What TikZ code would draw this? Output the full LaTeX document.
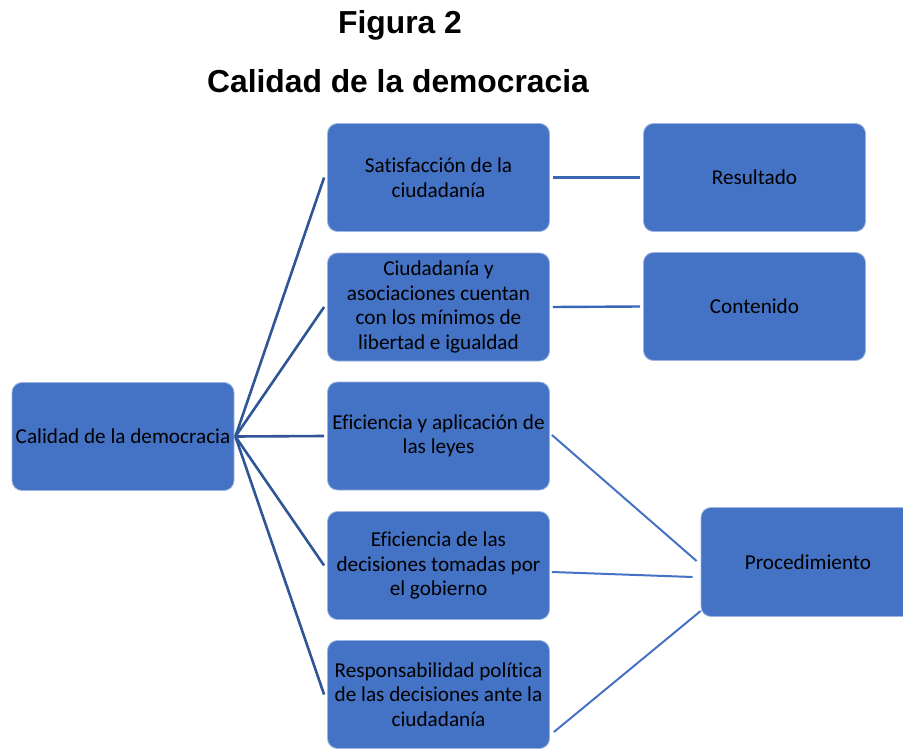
\documentclass[tikz,border=0pt]{standalone}
\usepackage{fontspec}
\setmainfont{Carlito}[Ligatures=NoCommon]
\newfontfamily\titlefont{Liberation Sans}
\usetikzlibrary{calc}
\definecolor{boxblue}{HTML}{4472C4}
\definecolor{boxedge}{HTML}{9DB3E0}
\definecolor{fanblue}{HTML}{2F5597}
\definecolor{midblue}{HTML}{3A66B6}
\begin{document}
\begin{tikzpicture}[x=1pt,y=-1pt,
  box/.style={rectangle, rounded corners=10pt, fill=boxblue, draw=boxedge, line width=0.8pt,
    minimum width=222pt, minimum height=108pt, inner sep=0pt, align=center,
    font=\fontsize{21.2}{24.5}\selectfont, text=black},
  ttl/.style={font=\titlefont\bfseries\fontsize{31.8}{36}\selectfont, text=black, inner sep=0pt},
  fan/.style={draw=fanblue, line width=2.6pt},
  side/.style={draw=midblue, line width=2.4pt},
  proc/.style={draw=boxblue, line width=2pt}]
\useasboundingbox (0,0) rectangle (903,749);
\begin{scope}
\clip (0,0) rectangle (903,749);
\node[ttl] (t1) at (400,25) {Figura 2};
\node[ttl] (t2) at (398,81.5) {Calidad de la democracia};

\node[box] (L) at (123,436.5) {Calidad de la democracia};
\node[box] (m1) at (438.5,177.5) {Satisfacción de la\\ciudadanía};
\node[box] (m2) at (438.5,307) {Ciudadanía y\\asociaciones cuentan\\con los mínimos de\\libertad e igualdad};
\node[box] (m3) at (438.5,436) {Eficiencia y aplicación de\\las leyes};
\node[box] (m4) at (438.5,565.5) {Eficiencia de las\\decisiones tomadas por\\el gobierno};
\node[box] (m5) at (438.5,694.5) {Responsabilidad política\\de las decisiones ante la\\ciudadanía};
\node[box] (r1) at (754.5,177.5) {Resultado};
\node[box] (r2) at (754.5,306.5) {Contenido};
\node[box, minimum width=214pt, minimum height=109pt] (P) at (808,562) {Procedimiento};

\coordinate (Ls) at ($(L.east)+(1,0)$);
\foreach \m in {m1,m2,m3,m4,m5}{
  \draw[fan] (Ls) -- ($(\m.west)+(-3,0)$);
}
\draw[side] ($(m1.east)+(3,0)$) -- ($(r1.west)+(-3,0)$);
\draw[side] ($(m2.east)+(3,0)$) -- ($(r2.west)+(-3,0)$);
\draw[proc] ($(m3.east)+(2,-1)$) -- ($(P.west)+(-4,-1)$);
\draw[proc] ($(m4.east)+(2,6.5)$) -- ($(P.west)+(-8,15)$);
\draw[proc] ($(m5.east)+(4,37.5)$) -- ($(P.west)+(0,49)$);
\end{scope}
\end{tikzpicture}
\end{document}
